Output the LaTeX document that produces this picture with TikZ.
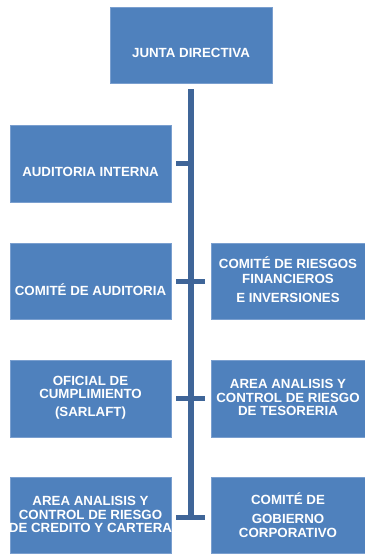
\documentclass[tikz,border=0pt]{standalone}
\usepackage{fontspec}
\setmainfont{Liberation Sans}
\definecolor{boxblue}{HTML}{4F81BD}
\definecolor{boxedge}{HTML}{7A9FCF}
\definecolor{trunkblue}{HTML}{3F6598}
\begin{document}
\begin{tikzpicture}[x=1bp,y=1bp,
  orgbox/.style={rectangle, fill=boxblue, draw=boxedge, line width=0.5bp, inner sep=0pt},
  lbl/.style={text=white, font=\fontsize{13.3bp}{13.5bp}\selectfont\bfseries, align=center, inner sep=0pt},
  trunkline/.style={draw=trunkblue, line width=6.5bp},
  barline/.style={draw=trunkblue, line width=5bp}]
\useasboundingbox (0,0) rectangle (364,-554);
% boxes
\node[orgbox, minimum width=162bp, minimum height=76bp] (top) at (191,-45) {};
\node[orgbox, minimum width=161bp, minimum height=77bp] (L1) at (90.5,-163.5) {};
\node[orgbox, minimum width=161bp, minimum height=76bp] (L2) at (90.5,-281) {};
\node[orgbox, minimum width=155bp, minimum height=76bp] (R2) at (288.5,-281) {};
\node[orgbox, minimum width=161bp, minimum height=77bp] (L3) at (90.5,-398.5) {};
\node[orgbox, minimum width=155bp, minimum height=77bp] (R3) at (288.5,-398.5) {};
\node[orgbox, minimum width=161bp, minimum height=76bp] (L4) at (90.5,-515) {};
\node[orgbox, minimum width=155bp, minimum height=76bp] (R4) at (288.5,-515) {};
% texts
\node[lbl] (topT) at (191,-53) {JUNTA DIRECTIVA};
\node[lbl] (L1T) at (90.5,-172) {AUDITORIA INTERNA};
\node[lbl] (L2T) at (90.5,-289.5) {COMITÉ DE AUDITORIA};
\node[lbl] (R2T) at (288,-279.5) {COMITÉ DE RIESGOS\\[1bp]FINANCIEROS\\[5.5bp]E INVERSIONES};
\node[lbl] (L3T) at (90.5,-397.5) {OFICIAL DE\\CUMPLIMIENTO\\[4.5bp](SARLAFT)};
\node[lbl] (R3T) at (288,-397.5) {AREA ANALISIS Y\\CONTROL DE RIESGO\\DE TESORERIA};
\node[lbl] (L4T) at (90.5,-514.5) {AREA ANALISIS Y\\CONTROL DE RIESGO\\DE CREDITO Y CARTERA};
\node[lbl] (R4T) at (288,-515) {COMITÉ DE\\[5.5bp]GOBIERNO\\CORPORATIVO};
% trunk
\coordinate (tTop) at ([yshift=-6bp]top.south);
\coordinate (tBot) at (191,-519.5);
\draw[trunkline] (tTop) -- (tBot);
% bars
\draw[barline] ([xshift=5bp]L1.east) -- (L1.east -| tTop);
\draw[barline] ([xshift=5bp]L2.east) -- ([xshift=-6bp]R2.west);
\draw[barline] ([xshift=5bp]L3.east) -- ([xshift=-6bp]R3.west);
\draw[barline] ([xshift=5bp]L4.east |- 0,-517) -- ([xshift=-6bp]R4.west |- 0,-517);
\end{tikzpicture}
\end{document}
